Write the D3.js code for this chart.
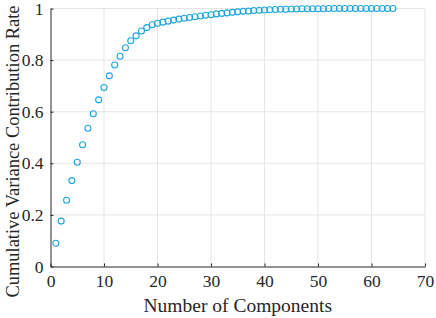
<!DOCTYPE html>
<html lang="en">
<head>
<meta charset="UTF-8">
<title>Cumulative Variance</title>
<style>
    body { margin: 0; background: #fff; }
    svg text { font-family: "Liberation Serif", "Times New Roman", Times, "DejaVu Serif", serif; }
    .axis text { font-size: 17.5px; fill: #262626; }
    .axis path, .axis line { stroke: #262626; }
    .grid line { stroke: #e5e5e5; }
    .label { font-size: 19.5px; fill: #262626; }
</style>
</head>
<body>
<svg class="chart"></svg>
<script src="https://d3js.org/d3.v7.min.js"></script>
<script>
// component index 1..64 and cumulative contribution rate
var components = d3.range(1, 65);
var rates = [
    0.090, 0.176, 0.257, 0.333, 0.404, 0.472, 0.536, 0.592, 0.646, 0.694,
    0.739, 0.781, 0.815, 0.848, 0.875, 0.894, 0.913, 0.926, 0.937, 0.943,
    0.947, 0.951, 0.955, 0.959, 0.962, 0.965, 0.968, 0.971, 0.974, 0.976,
    0.979, 0.981, 0.983, 0.985, 0.987, 0.989, 0.990, 0.992, 0.993, 0.994,
    0.995, 0.996, 0.997, 0.997, 0.998, 0.998, 0.999, 0.999, 0.999, 0.999,
    0.999, 1.000, 1.000, 1.000, 1.000, 1.000, 1.000, 1.000, 1.000, 1.000,
    1.000, 1.000, 1.000, 1.000
];
var xTicks = [0, 10, 20, 30, 40, 50, 60, 70];
var yTicks = [0, 0.2, 0.4, 0.6, 0.8, 1];

var settings = {
    width: 436,
    height: 318,
    margin: {top: 8.5, right: 11, bottom: 51.5, left: 50.5}
};
var w = settings.width - settings.margin.left - settings.margin.right;
var h = settings.height - settings.margin.top - settings.margin.bottom;

var x = d3.scaleLinear().domain([0, 70]).range([0, w]);
var y = d3.scaleLinear().domain([0, 1]).range([h, 0]);

var svg = d3.select('.chart')
    .attr('width', settings.width)
    .attr('height', settings.height);

var chart = svg.append('g')
    .attr('transform', `translate(${settings.margin.left}, ${settings.margin.top})`);

// grid
chart.append('g').attr('class', 'grid')
    .selectAll('line.v').data(xTicks.slice(1)).enter().append('line')
    .attr('x1', d => x(d)).attr('x2', d => x(d))
    .attr('y1', 0).attr('y2', h);
chart.append('g').attr('class', 'grid')
    .selectAll('line.h').data(yTicks.slice(1)).enter().append('line')
    .attr('x1', 0).attr('x2', w)
    .attr('y1', d => y(d)).attr('y2', d => y(d));

// axes, ticks pointing inward like matlab
chart.append('g')
    .attr('class', 'x axis')
    .attr('transform', `translate(0, ${h})`)
    .call(d3.axisBottom(x).tickValues(xTicks).tickSizeInner(-3).tickSizeOuter(0).tickPadding(8))
    .selectAll('text').attr('dy', '0.71em');

chart.append('g')
    .attr('class', 'y axis')
    .call(d3.axisLeft(y).tickValues(yTicks).tickSizeInner(-3).tickSizeOuter(0).tickPadding(7)
        .tickFormat(d3.format('~g')));

chart.selectAll('.axis').attr('font-family', null).attr('font-size', null);

// points
chart.selectAll('.pt')
    .data(components)
    .enter()
    .append('circle')
    .attr('class', 'pt')
    .attr('cx', d => x(d))
    .attr('cy', (d, i) => y(rates[i]))
    .attr('r', 3)
    .attr('fill', 'none')
    .attr('stroke', '#1ea6dc')
    .attr('stroke-width', 1.1);

// labels
svg.append('text')
    .attr('class', 'label')
    .attr('text-anchor', 'middle')
    .attr('x', settings.margin.left + w / 2)
    .attr('y', 312)
    .text('Number of Components');

svg.append('text')
    .attr('class', 'label')
    .style('font-size', '18.5px')
    .attr('text-anchor', 'middle')
    .attr('transform', `translate(18.5, ${settings.margin.top + h / 2 + 14}) rotate(-90)`)
    .attr('textLength', 292)
    .attr('lengthAdjust', 'spacingAndGlyphs')
    .text('Cumulative Variance Contribution Rate');
</script>
</body>
</html>
